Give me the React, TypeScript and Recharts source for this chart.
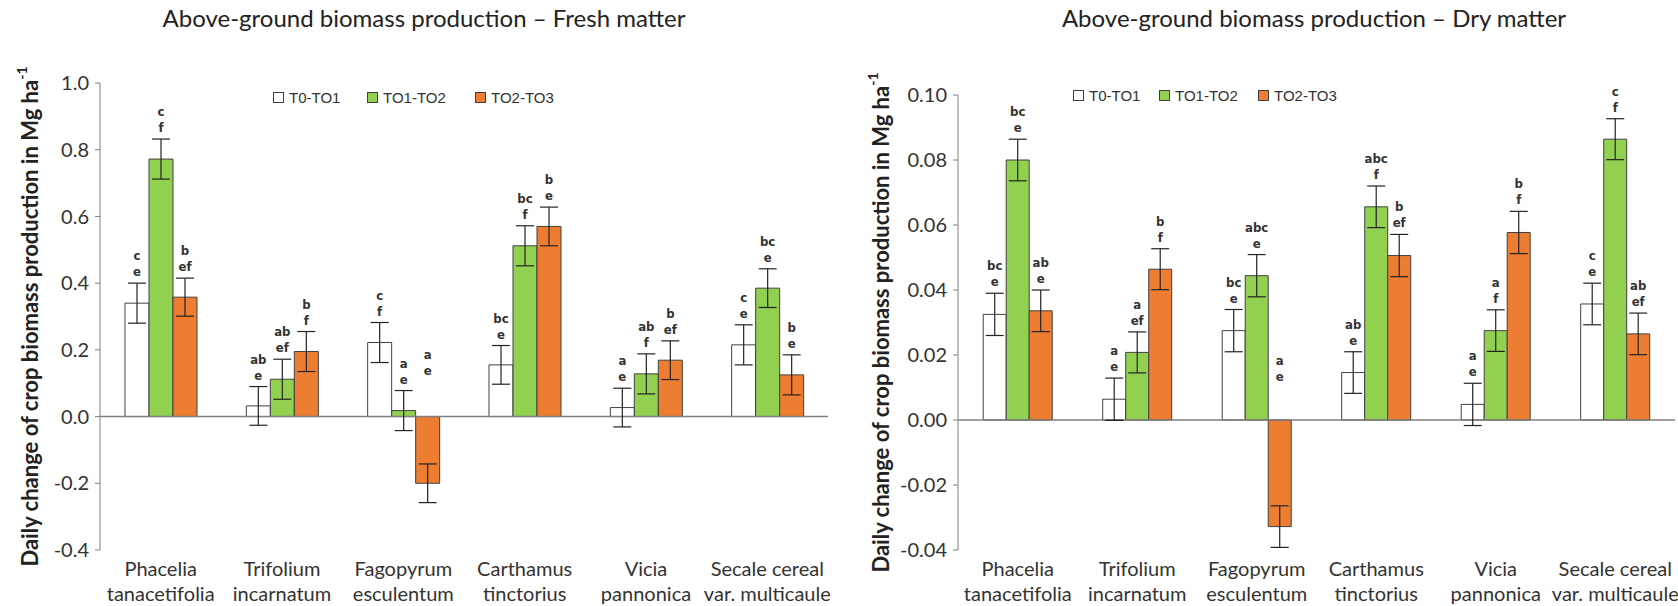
import React from 'react';
import { BarChart, Bar, XAxis, YAxis, ErrorBar, LabelList, ReferenceLine } from 'recharts';

// categories (two-line tick labels)
const categoryTop = ['Phacelia', 'Trifolium', 'Fagopyrum', 'Carthamus', 'Vicia', 'Secale cereal'];
const categoryBottom = ['tanacetifolia', 'incarnatum', 'esculentum', 'tinctorius', 'pannonica', 'var. multicaule'];

const seriesNames = ['T0-TO1', 'TO1-TO2', 'TO2-TO3'];
const seriesColors = ['#FFFFFF', '#92D050', '#ED7D31'];

// Fresh matter (Mg ha-1 per day)
const freshT0 = [0.34, 0.032, 0.222, 0.155, 0.027, 0.215];
const freshT1 = [0.772, 0.112, 0.018, 0.512, 0.128, 0.385];
const freshT2 = [0.358, 0.195, -0.2, 0.57, 0.169, 0.125];
const freshErrT0 = [0.06, 0.058, 0.06, 0.058, 0.058, 0.06];
const freshErrT1 = [0.06, 0.06, 0.06, 0.06, 0.06, 0.058];
const freshErrT2 = [0.057, 0.06, 0.058, 0.058, 0.058, 0.06];
const freshLetT0 = [['c', 'e'], ['ab', 'e'], ['c', 'f'], ['bc', 'e'], ['a', 'e'], ['c', 'e']];
const freshLetT1 = [['c', 'f'], ['ab', 'ef'], ['a', 'e'], ['bc', 'f'], ['ab', 'f'], ['bc', 'e']];
const freshLetT2 = [['b', 'ef'], ['b', 'f'], ['a', 'e'], ['b', 'e'], ['b', 'ef'], ['b', 'e']];
const freshTicks = [-0.4, -0.2, 0, 0.2, 0.4, 0.6, 0.8, 1.0];

// Dry matter
const dryT0 = [0.0325, 0.0064, 0.0275, 0.0146, 0.0048, 0.0357];
const dryT1 = [0.08, 0.0208, 0.0444, 0.0656, 0.0275, 0.0864];
const dryT2 = [0.0336, 0.0464, -0.0328, 0.0506, 0.0577, 0.0265];
const dryErrT0 = [0.0065, 0.0065, 0.0065, 0.0064, 0.0065, 0.0064];
const dryErrT1 = [0.0064, 0.0063, 0.0065, 0.0064, 0.0064, 0.0063];
const dryErrT2 = [0.0064, 0.0063, 0.0064, 0.0065, 0.0065, 0.0064];
const dryLetT0 = [['bc', 'e'], ['a', 'e'], ['bc', 'e'], ['ab', 'e'], ['a', 'e'], ['c', 'e']];
const dryLetT1 = [['bc', 'e'], ['a', 'ef'], ['abc', 'e'], ['abc', 'f'], ['a', 'f'], ['c', 'f']];
const dryLetT2 = [['ab', 'e'], ['b', 'f'], ['a', 'e'], ['b', 'ef'], ['b', 'f'], ['ab', 'ef']];
const dryTicks = [-0.04, -0.02, 0, 0.02, 0.04, 0.06, 0.08, 0.1];

const FONT = 'Lato, "Open Sans", sans-serif';
const LETTER_FONT = '"Liberation Sans Narrow", "DejaVu Sans Condensed", sans-serif';

const buildRows = (vals: number[][], errs: number[][]) =>
  categoryTop.map((name, i) => ({
    name,
    s0: vals[0][i], s1: vals[1][i], s2: vals[2][i],
    e0: errs[0][i], e1: errs[1][i], e2: errs[2][i],
  }));

const CategoryTick = (props: any) => {
  const { x, y, payload } = props;
  const i = categoryTop.indexOf(payload.value);
  return (
    <text textAnchor="middle" fontFamily={FONT} fontSize={20} fill="#333">
      <tspan x={x} y={y + 26}>{categoryTop[i]}</tspan>
      <tspan x={x} y={y + 51}>{categoryBottom[i]}</tspan>
    </text>
  );
};

const makeLetters = (vals: number[], errs: number[], lets: string[][], negOffset: number) => (props: any) => {
  const x = Number(props.x), y = Number(props.y), w = Number(props.width), h = Number(props.height);
  const i = props.index;
  const v = vals[i];
  const top = Math.min(y, y + h);
  const span = Math.abs(h);
  let base;
  if (v >= 0) {
    const ppu = v !== 0 ? span / Math.abs(v) : 0;
    base = top - errs[i] * ppu - 7;
  } else {
    base = top - negOffset;
  }
  const cx = x + w / 2;
  return (
    <text textAnchor="middle" fontFamily={LETTER_FONT} fontWeight={700} fontSize={13} fill="#333">
      <tspan x={cx} y={base - 16}>{lets[i][0]}</tspan>
      <tspan x={cx} y={base}>{lets[i][1]}</tspan>
    </text>
  );
};

type PanelProps = {
  left: number;
  width: number;
  title: string;
  titleX: number;
  vals: number[][];
  errs: number[][];
  lets: string[][][];
  ticks: number[];
  digits: number;
  yAxisWidth: number;
  margin: { top: number; right: number; bottom: number; left: number };
  gap: string;
  yLabelX: number;
  legendXs: number[];
  legendY: number;
  negOffset: number;
};

function Panel(p: PanelProps) {
  const rows = buildRows(p.vals, p.errs);
  return (
    <div style={{ position: 'absolute', left: p.left, top: 0, width: p.width, height: 606 }}>
      <div
        style={{
          position: 'absolute', top: 3, left: p.titleX - 400, width: 800, textAlign: 'center',
          fontFamily: FONT, fontSize: 24, color: '#222', whiteSpace: 'nowrap',
        }}
      >
        {p.title}
      </div>
      <BarChart width={p.width} height={606} data={rows} margin={p.margin} barGap={0} barCategoryGap={p.gap}>
        <XAxis dataKey="name" axisLine={false} tickLine={false} tickSize={0} tickMargin={0} height={56} tick={<CategoryTick />} interval={0} />
        <YAxis
          width={p.yAxisWidth}
          domain={[p.ticks[0], p.ticks[p.ticks.length - 1]]}
          ticks={p.ticks}
          allowDataOverflow
          tickFormatter={(t: number) => t.toFixed(p.digits)}
          tick={{ fontFamily: FONT, fontSize: 20, fill: '#333' }}
          tickSize={5}
          tickMargin={6}
          stroke="#7f7f7f"
          label={{
            content: (lp: any) => {
              const vb = lp.viewBox;
              const cx = p.yLabelX;
              const cy = vb.y + vb.height / 2;
              return (
                <text
                  x={cx} y={cy} transform={`rotate(-90 ${cx} ${cy})`} textAnchor="middle" dominantBaseline="central"
                  fontFamily={FONT} fontWeight={700} fontSize={22} fill="#222"
                >
                  Daily change of crop biomass production in Mg ha<tspan dy={-8} fontSize={14}>-1</tspan>
                </text>
              );
            },
          }}
        />
        <ReferenceLine y={0} stroke="#7f7f7f" strokeWidth={1.5} />
        {[0, 1, 2].map((s) => (
          <Bar key={s} dataKey={`s${s}`} fill={seriesColors[s]} stroke="#404040" strokeWidth={1} isAnimationActive={false}>
            <ErrorBar dataKey={`e${s}`} width={9} stroke="#222" strokeWidth={1.2} direction="y" />
            <LabelList dataKey={`s${s}`} content={makeLetters(p.vals[s], p.errs[s], p.lets[s], p.negOffset)} />
          </Bar>
        ))}
      </BarChart>
      {seriesNames.map((n, i) => (
        <div
          key={n}
          style={{
            position: 'absolute', left: p.legendXs[i], top: p.legendY - 9, height: 18, display: 'flex', alignItems: 'center',
            fontFamily: '"Liberation Sans", Arial, sans-serif', fontSize: 15, color: '#333', whiteSpace: 'nowrap',
          }}
        >
          <span style={{ width: 9, height: 9, border: '1px solid #404040', background: seriesColors[i], marginRight: 5 }} />
          <span>{n}</span>
        </div>
      ))}
    </div>
  );
}

export default function App() {
  return (
    <div style={{ position: 'absolute', left: 0, top: 0, width: 1678, height: 606, background: '#fff', overflow: 'hidden' }}>
      <Panel
        left={0}
        width={840}
        title="Above-ground biomass production – Fresh matter"
        titleX={424}
        vals={[freshT0, freshT1, freshT2]}
        errs={[freshErrT0, freshErrT1, freshErrT2]}
        lets={[freshLetT0, freshLetT1, freshLetT2]}
        ticks={freshTicks}
        digits={1}
        yAxisWidth={100}
        margin={{ top: 83, right: 12, bottom: 0, left: 0 }}
        gap="20.6%"
        yLabelX={29}
        legendXs={[273, 367, 475]}
        legendY={97}
        negOffset={42}
      />
      <Panel
        left={840}
        width={838}
        title="Above-ground biomass production – Dry matter"
        titleX={474}
        vals={[dryT0, dryT1, dryT2]}
        errs={[dryErrT0, dryErrT1, dryErrT2]}
        lets={[dryLetT0, dryLetT1, dryLetT2]}
        ticks={dryTicks}
        digits={2}
        yAxisWidth={118}
        margin={{ top: 95, right: 3, bottom: 0, left: 0 }}
        gap="21.1%"
        yLabelX={40}
        legendXs={[233, 319, 418]}
        legendY={95}
        negOffset={39}
      />
    </div>
  );
}
